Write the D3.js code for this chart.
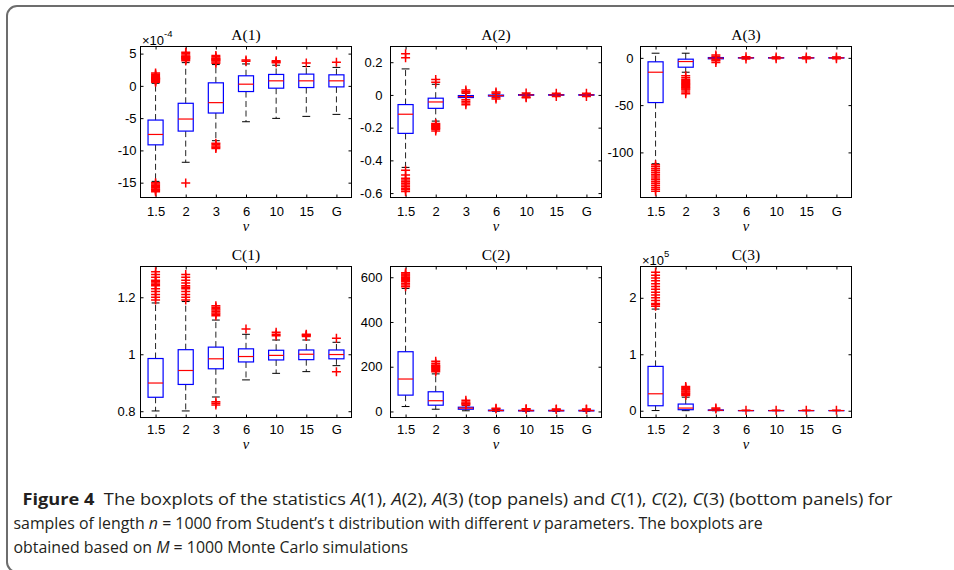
<!DOCTYPE html>
<html><head><meta charset="utf-8">
<script src="https://cdn.jsdelivr.net/npm/d3@7"></script>
<style>body{margin:0;background:#fff} svg{display:block}</style>
</head><body>
<svg id="c" width="954" height="570"></svg>
<script>
const categories = ["1.5","2","3","6","10","15","G"];
// each box row: [lowerWhisker, q1, median, q3, upperWhisker]
const A1_box = [[-14.8,-9.14,-7.53,-5.30,0.4],[-11.84,-7.01,-5.14,-2.70,3.6],[-8.5,-4.21,-2.60,0.47,3.3],[-5.56,-0.88,0.26,1.56,3.4],[-5.04,-0.36,0.78,1.77,3.2],[-4.73,-0.26,0.78,1.82,3.0],[-4.42,-0.16,0.78,1.71,2.86]];
const A1_out = [[0.55,0.7,0.8,0.9,1.0,1.05,1.1,1.15,1.2,1.3,1.4,1.6,1.8,2.0,-15.0,-15.2,-15.4,-15.6,-15.8,-16.0,-16.1,-16.2,-16.4],[3.9,4.1,4.2,4.3,4.4,4.5,4.6,4.8,5.0,5.2,-15.06],[3.5,3.7,3.9,4.0,4.1,4.2,4.3,4.5,4.7,-8.9,-9.1,-9.3,-9.5,-9.7],[3.8,4.0],[3.6,3.75,3.9],[3.53],[3.64]];
const A1_ticks = [-15,-10,-5,0,5];

const A2_box = [[-0.443,-0.235,-0.118,-0.059,0.159],[-0.16,-0.082,-0.043,-0.020,0.065],[-0.028,-0.016,-0.010,-0.004,0.010],[-0.013,-0.007,-0.004,-0.001,0.006],[-0.007,-0.002,0,0.002,0.007],[-0.006,-0.002,0,0.002,0.006],[-0.006,-0.002,0,0.002,0.006]];
const A2_out = [[0.251,0.227,-0.46,-0.49,-0.51,-0.52,-0.53,-0.54,-0.55,-0.56,-0.57,-0.58,-0.59],[0.094,0.078,-0.175,-0.18,-0.185,-0.19,-0.195,-0.2,-0.205,-0.21,-0.22],[0.03,0.02,0.012,-0.03,-0.04,-0.05,-0.06],[0.018,0.01,-0.015,-0.025],[0.012,-0.012,-0.018],[0.01,-0.01],[0.01,-0.01]];
const A2_ticks = [-0.6,-0.4,-0.2,0,0.2];

const A3_box = [[-112,-47.3,-15.2,-4.2,4.9],[-15.2,-9.9,-3.9,-1.4,4.9],[-2,-1.0,-0.3,0.3,1.5],[-0.8,-0.2,0,0.2,0.8],[-0.8,-0.2,0,0.2,0.8],[-0.8,-0.2,0,0.2,0.8],[-0.8,-0.2,0,0.2,0.8]];
const A3_out = [[-113,-115,-117,-119,-121,-123,-125,-127,-129,-131,-133,-135,-137,-139,-141],[-19,-21,-23,-24,-25,-26,-27,-28,-29,-30,-31,-32,-33,-34,-36,-38],[3,1.5,-2,-3,-5],[1.2,-1.2],[1,-1],[1,-1],[1,-1]];
const A3_ticks = [-100,-50,0];

const C1_box = [[0.801,0.849,0.899,0.985,1.18],[0.801,0.894,0.943,1.016,1.185],[0.85,0.949,0.984,1.025,1.12],[0.910,0.973,0.992,1.019,1.07],[0.933,0.980,0.996,1.014,1.05],[0.939,0.981,1.0,1.015,1.05],[0.96,0.984,0.999,1.015,1.042]];
const C1_out = [[1.19,1.2,1.21,1.22,1.23,1.24,1.245,1.25,1.255,1.26,1.27,1.28,1.29],[1.19,1.2,1.21,1.22,1.23,1.235,1.24,1.25,1.26,1.27,1.28],[1.135,1.14,1.145,1.15,1.155,1.16,1.165,1.17,0.822,0.828,0.833],[1.089],[1.077,1.07,1.065],[1.07,1.066,1.062,1.068],[1.056,0.939]];
const C1_ticks = [0.8,1,1.2];

const C2_box = [[22,73,145,267,550],[10,28,48,88,168],[3,10,15,19,26],[1,3,4,6,9],[1,2.5,3.5,5,8],[1,2.5,3.5,5,8],[1,2.5,3.5,5,8]];
const C2_out = [[558,565,572,580,585,590,595,600,605,610,615,620],[178,183,188,192,196,200,204,208,215,225],[29,33,37,42,50],[11,14],[10,12],[9,11],[9,11]];
const C2_ticks = [0,200,400,600];

const C3_box = [[0.003,0.088,0.30,0.785,1.8],[0.001,0.018,0.047,0.118,0.24],[0,0.004,0.008,0.014,0.025],[0,0.001,0.002,0.003,0.006],[0,0.001,0.002,0.003,0.006],[0,0.001,0.002,0.003,0.006],[0,0.001,0.002,0.003,0.006]];
const C3_out = [[1.85,1.88,1.9,1.95,2.0,2.05,2.1,2.15,2.2,2.25,2.3,2.35,2.4,2.45],[0.27,0.29,0.31,0.33,0.35,0.37,0.39,0.41,0.43],[0.03,0.05],[0.01],[0.01],[0.01],[0.01]];
const C3_ticks = [0,1,2];

const titles = ["A(1)","A(2)","A(3)","C(1)","C(2)","C(3)"];

const panels = [
  {box:A1_box,out:A1_out,ticks:A1_ticks,dom:[-17.3,6.1],col:0,row:0,pad:4,exp:"-4"},
  {box:A2_box,out:A2_out,ticks:A2_ticks,dom:[-0.627,0.296],col:1,row:0,pad:8},
  {box:A3_box,out:A3_out,ticks:A3_ticks,dom:[-147.7,12],col:2,row:0,pad:7},
  {box:C1_box,out:C1_out,ticks:C1_ticks,dom:[0.778,1.308],col:0,row:1,pad:5},
  {box:C2_box,out:C2_out,ticks:C2_ticks,dom:[-27,648],col:1,row:1,pad:8},
  {box:C3_box,out:C3_out,ticks:C3_ticks,dom:[-0.12,2.554],col:2,row:1,pad:4,exp:"5"}
];

const svg = d3.select("#c");
svg.append("rect").attr("x",7).attr("y",6).attr("width",980).attr("height",566)
  .attr("rx",10).attr("fill","none").attr("stroke","#6d6d6d").attr("stroke-width",2);

const colX = [140.5, 390.5, 640.5], rowY = [46.5, 266.5];
const W = 211, H = 151;
const tickFont = "'Liberation Sans', Arial, sans-serif";
const TF = 13;

panels.forEach((p,pi) => {
  const g = svg.append("g").attr("transform",`translate(${colX[p.col]},${rowY[p.row]})`);
  const x = d3.scalePoint().domain(categories).range([0,W]).padding(0.5);
  const y = d3.scaleLinear().domain(p.dom).range([H,0]);
  const step = x.step();

  const fmt = d => String(d);
  const ax = [
    g.append("g").call(d3.axisLeft(y).tickValues(p.ticks).tickSize(-3).tickPadding(p.pad).tickFormat(fmt)),
    g.append("g").attr("transform",`translate(${W},0)`).call(d3.axisRight(y).tickValues(p.ticks).tickSize(-3).tickFormat("")),
    g.append("g").attr("transform",`translate(0,${H})`).call(d3.axisBottom(x).tickSize(-3).tickPadding(p.row===0?9.5:7.5)),
    g.append("g").call(d3.axisTop(x).tickSize(-3).tickFormat(""))
  ];
  ax.forEach(a => {
    a.select(".domain").remove();
    a.selectAll("text").attr("font-family",tickFont).attr("font-size",TF).attr("fill","#000");
    a.selectAll("line").attr("stroke","#000");
  });

  const bg = g.append("g");
  p.box.forEach((b,i) => {
    const cx = x(categories[i]);
    const [lo,q1,med,q3,hi] = b;
    bg.append("line").attr("x1",cx).attr("x2",cx).attr("y1",y(q3)).attr("y2",y(hi))
      .attr("stroke","#222").attr("stroke-dasharray","6,3.5");
    bg.append("line").attr("x1",cx).attr("x2",cx).attr("y1",y(q1)).attr("y2",y(lo))
      .attr("stroke","#222").attr("stroke-dasharray","6,3.5");
    [lo,hi].forEach(v => bg.append("line").attr("x1",cx-step*0.13).attr("x2",cx+step*0.13)
      .attr("y1",y(v)).attr("y2",y(v)).attr("stroke","#000"));
    bg.append("rect").attr("x",cx-step*0.25).attr("width",step*0.5)
      .attr("y",y(q3)).attr("height",Math.max(0,y(q1)-y(q3)))
      .attr("fill","none").attr("stroke","#0000ff").attr("stroke-width",1.2);
    bg.append("line").attr("x1",cx-step*0.25).attr("x2",cx+step*0.25)
      .attr("y1",y(med)).attr("y2",y(med)).attr("stroke","#ff0000").attr("stroke-width",1.2);
  });
  p.out.forEach((arr,i) => {
    const cx = x(categories[i]);
    arr.forEach(v => {
      bg.append("path").attr("d","M-4.5,0H4.5M0,-4.5V4.5")
        .attr("transform",`translate(${cx},${y(v)})`)
        .attr("stroke","#ff0000").attr("stroke-width",1.5).attr("fill","none");
    });
  });

  g.append("rect").attr("width",W).attr("height",H).attr("fill","none").attr("stroke","#000").attr("stroke-width",1);

  g.append("text").attr("x",W/2).attr("y",-7).attr("text-anchor","middle")
    .attr("font-family","'Liberation Serif', serif").attr("font-size",15.5).text(titles[pi]);
  g.append("text").attr("x",W/2).attr("y",H + (p.row===0?33.5:31.5)).attr("text-anchor","middle")
    .attr("font-family","'Liberation Serif', serif").attr("font-style","italic").attr("font-size",14.5).text("ν");
  if (p.exp) {
    const t = g.append("text").attr("x",1.5).attr("y",-1.5).attr("font-family",tickFont).attr("font-size",13);
    t.append("tspan").text("×10");
    t.append("tspan").attr("dy",-8).attr("font-size",9.5).text(p.exp);
  }
});

// caption: each of the two long lines fitted to its measured width; the last line uses line 2's compression
const cap = svg.append("g").attr("fill","#231f20").attr("font-family","'Open Sans', sans-serif").attr("font-size",16.5);
const lines = [
  {x:22.5, y:505, w:871, parts:[["Figure 4","b"],["  The boxplots of the statistics ",""],["A","i"],["(1), ",""],["A","i"],["(2), ",""],["A","i"],["(3) (top panels) and ",""],["C","i"],["(1), ",""],["C","i"],["(2), ",""],["C","i"],["(3) (bottom panels) for",""]]},
  {x:13.5, y:529, w:750, parts:[["samples of length ",""],["n","i"],[" = 1000 from Student’s t distribution with different ",""],["v","i"],[" parameters. The boxplots are",""]]},
  {x:13.5, y:553, w:null, parts:[["obtained based on ",""],["M","i"],[" = 1000 Monte Carlo simulations",""]]}
];
let lastK = 1;
lines.forEach(L => {
  const t = cap.append("text").attr("xml:space","preserve").style("white-space","pre");
  L.parts.forEach(([s,st]) => {
    const ts = t.append("tspan").text(s);
    if (st==="b") ts.attr("font-weight","bold");
    if (st==="i") ts.attr("font-style","italic");
  });
  const bw = t.node().getBBox().width;
  const k = L.w ? L.w / bw : lastK;
  lastK = k;
  t.attr("transform",`translate(${L.x},${L.y}) scale(${k},1)`);
});
</script>
</body></html>
